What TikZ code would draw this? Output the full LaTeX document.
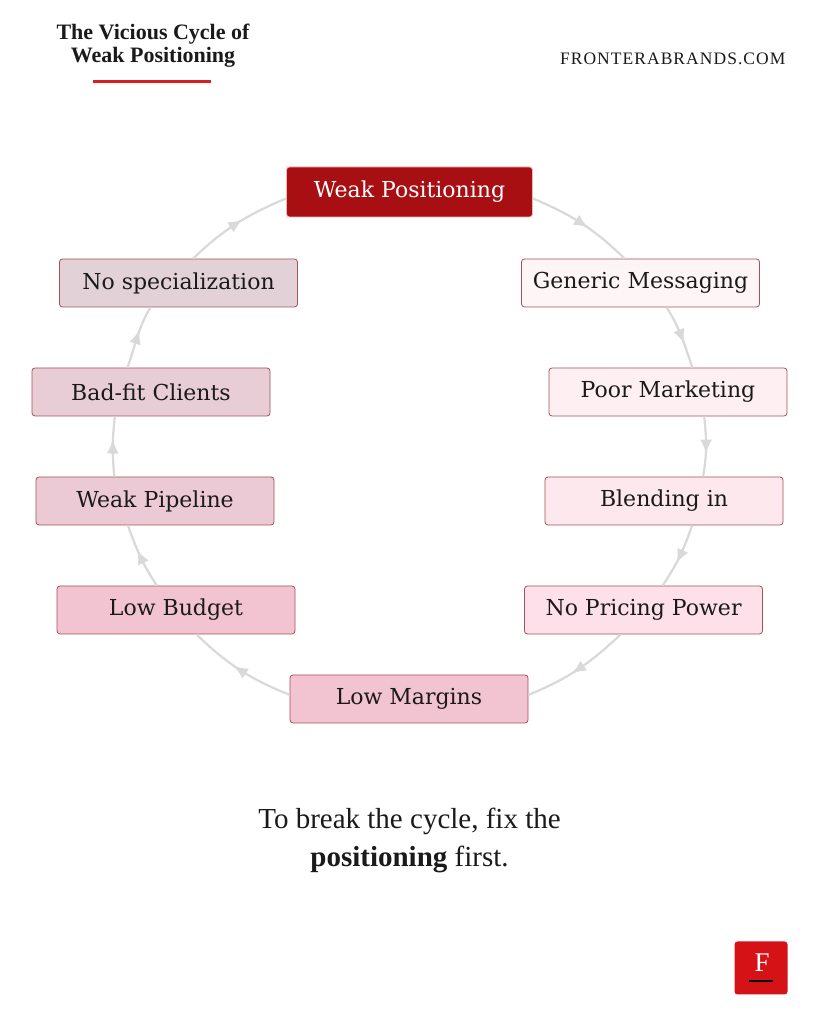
\documentclass[tikz,border=0pt]{standalone}
\usepackage{fontspec}
\setmainfont{Liberation Serif}
\newfontfamily\boxfont{DejaVu Serif}
\usepackage{tikz}
\usetikzlibrary{positioning,arrows.meta,decorations.markings}

\definecolor{ink}{HTML}{1A1A1A}
\definecolor{wpred}{HTML}{A80F12}
\definecolor{wpline}{HTML}{F0B4B6}
\definecolor{cellline}{HTML}{A4525A}
\definecolor{arcgrey}{HTML}{D9D9D9}
\definecolor{titlered}{HTML}{DA1F22}
\definecolor{logored}{HTML}{D51216}
\definecolor{fgm}{HTML}{FEF5F7}
\definecolor{fpm}{HTML}{FEEFF2}
\definecolor{fbl}{HTML}{FDE8EE}
\definecolor{fnp}{HTML}{FDE0E9}
\definecolor{flm}{HTML}{F2C3D1}
\definecolor{flb}{HTML}{F2C3D1}
\definecolor{fwpl}{HTML}{EBCAD5}
\definecolor{fbc}{HTML}{E8CDD6}
\definecolor{fns}{HTML}{E3D1D8}

\begin{document}
\begin{tikzpicture}[x=1pt,y=1pt,
  cell/.style={draw=cellline, line width=0.8pt, rounded corners=3pt,
    minimum width=238pt, minimum height=48pt, inner sep=2pt,
    font=\boxfont\fontsize{22}{26}\selectfont, text=ink},
  cyc/.style={draw=arcgrey, line width=2.2pt, postaction={decorate},
    decoration={markings, mark=at position 0.5 with
      {\arrow[arcgrey, xshift=7pt]{Latex[length=14pt,width=12pt]}}}}]

  \fill[white] (0,0) rectangle (819,1024);
  \useasboundingbox (0,0) rectangle (819,1024);

  % heading
  \node[font=\bfseries\fontsize{22}{22.5}\selectfont, align=center, text=ink] (title) at (153,978.5)
    {The Vicious Cycle of\\Weak Positioning};
  \draw[titlered, line width=3pt] (93,942.5) -- (211,942.5);
  \node[anchor=base east, text=ink,
    font=\addfontfeatures{LetterSpace=6}\fontsize{17.5}{20}\selectfont] (site) at (789,959)
    {FRONTERABRANDS.COM};

  % the cycle
  \node[cell, fill=wpred, draw=wpline, text=white, minimum width=246pt, minimum height=50pt] (wp) at (409.5,832) {Weak Positioning};
  \node[cell, fill=fgm] (gm) at (640.5,741) {Generic Messaging};
  \node[cell, fill=fpm] (pm) at (668,632) {Poor Marketing};
  \node[cell, fill=fbl] (bl) at (664,523) {Blending in};
  \node[cell, fill=fnp] (np) at (643.5,414) {No Pricing Power};
  \node[cell, fill=flm] (lm) at (409,325) {Low Margins};
  \node[cell, fill=flb] (lb) at (176,414) {Low Budget};
  \node[cell, fill=fwpl] (wpl) at (155,523) {Weak Pipeline};
  \node[cell, fill=fbc] (bc) at (151,632) {Bad-fit Clients};
  \node[cell, fill=fns] (ns) at (178.5,741) {No specialization};

  \path (wp.-3) edge[cyc, out=-23, in=136] (gm.123);
  \path (gm.-43) edge[cyc, out=-58, in=109] (pm.45);
  \path (pm.-34) edge[cyc, out=-84, in=80] (bl.32);
  \path (bl.-41) edge[cyc, out=-109, in=56] (np.52);
  \path (np.-133) edge[cyc, out=-137, in=22] (lm.2);
  \path (lm.178) edge[cyc, out=158, in=-44] (lb.-50);
  \path (lb.128) edge[cyc, out=124, in=-70] (wpl.-138);
  \path (wpl.149) edge[cyc, out=96, in=-96] (bc.-146);
  \path (bc.134) edge[cyc, out=70, in=-121] (ns.-139);
  \path (ns.59) edge[cyc, out=44, in=-157] (wp.183);

  % closing line
  \node[align=center, text=ink, font=\fontsize{29}{38}\selectfont] (tag) at (409.5,184)
    {To break the cycle, fix the\\\textbf{positioning} first.};

  % logo
  \node[fill=logored, rounded corners=3pt, minimum width=53pt, minimum height=53pt] (logo) at (761,56) {};
  \node[text=white, font=\fontsize{27}{27}\selectfont] (logoF) at (762,61) {F};
  \draw[black, line width=1.2pt] (749,43) -- (773,43);

\end{tikzpicture}
\end{document}
